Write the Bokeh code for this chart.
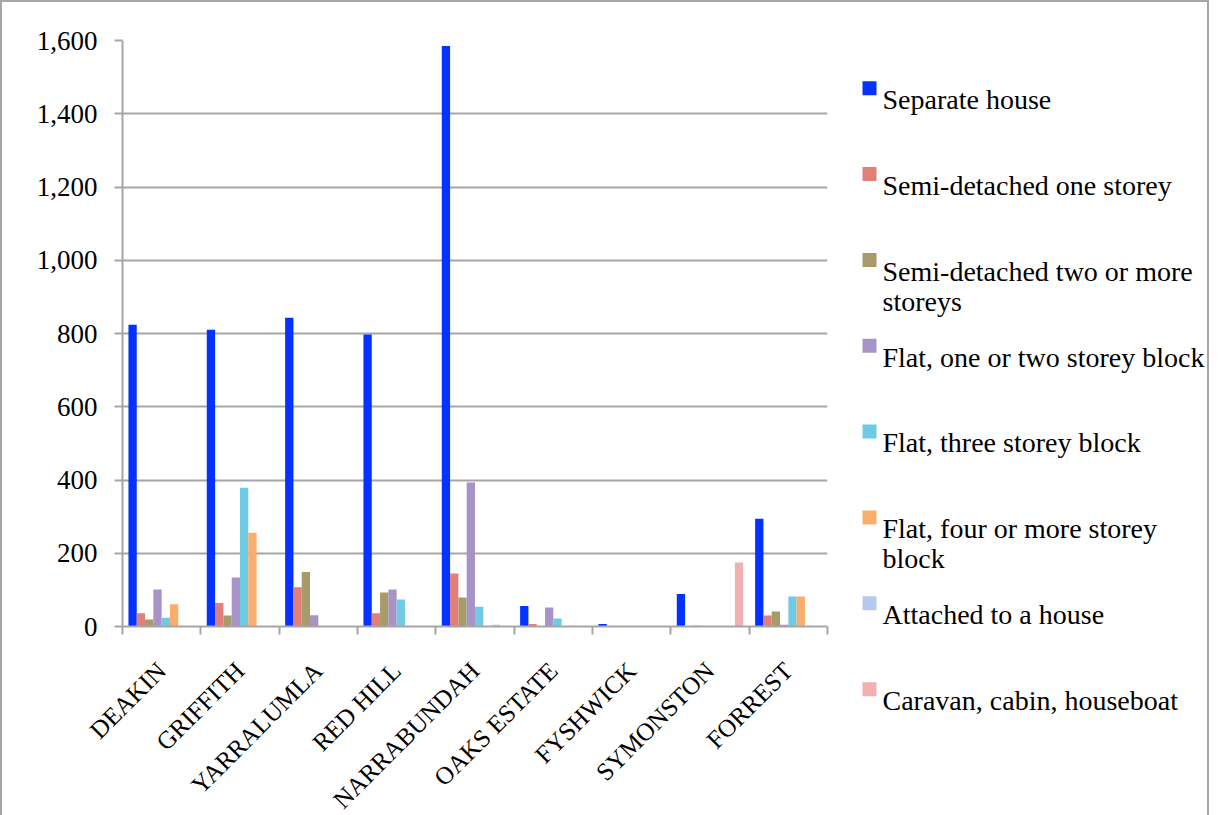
import math
from bokeh.plotting import figure
from bokeh.layouts import row
from bokeh.models import Range1d, FixedTicker, NumeralTickFormatter, ColumnDataSource
from bokeh.core.properties import value
from bokeh.embed import file_html
from bokeh.resources import INLINE

# ---- data ----
suburbs = ["DEAKIN", "GRIFFITH", "YARRALUMLA", "RED HILL", "NARRABUNDAH",
           "OAKS ESTATE", "FYSHWICK", "SYMONSTON", "FORREST"]

separate_house = [824, 810, 843, 797, 1585, 56, 7, 89, 294]
semi_one = [36, 64, 107, 36, 145, 7, 0, 0, 30]
semi_two = [19, 30, 149, 93, 79, 0, 0, 2, 41]
flat_one_two = [101, 134, 31, 101, 393, 52, 0, 0, 5]
flat_three = [24, 379, 0, 74, 54, 22, 0, 0, 82]
flat_four = [61, 256, 0, 0, 0, 0, 0, 0, 82]
attached = [2, 0, 0, 0, 5, 2, 0, 1, 0]
caravan = [0, 0, 0, 0, 0, 0, 0, 175, 0]

series_names = ["Separate house", "Semi-detached one storey",
                "Semi-detached two or more\nstoreys", "Flat, one or two storey block",
                "Flat, three storey block", "Flat, four or more storey\nblock",
                "Attached to a house", "Caravan, cabin, houseboat"]
series_values = [separate_house, semi_one, semi_two, flat_one_two,
                 flat_three, flat_four, attached, caravan]
series_colors = ["#0433FF", "#E27F79", "#A69B69", "#A793C6",
                 "#6FCBE3", "#FBAE6B", "#B5C9EF", "#F2B0B0"]

y_ticks = [0, 200, 400, 600, 800, 1000, 1200, 1400, 1600]

FONT = "Liberation Serif"
FS = "27px"
GRAY = "#A6A6A6"

FRAME_W, FRAME_H = 705, 586
BL, BR, BT, BB = 120, 10, 38, 186
TOTAL_H = BT + FRAME_H + BB

p = figure(frame_width=FRAME_W, frame_height=FRAME_H, output_backend="svg",
           toolbar_location=None,
           x_range=Range1d(0, len(suburbs)), y_range=Range1d(0, 1600),
           min_border_left=BL, min_border_right=BR,
           min_border_top=BT, min_border_bottom=BB)
p.outline_line_color = None

n = len(series_names)
bw = 0.106
for i, (vals, col) in enumerate(zip(series_values, series_colors)):
    xs = [k + 0.5 + (i - (n - 1) / 2) * bw for k in range(len(suburbs))]
    src = ColumnDataSource(dict(x=xs, top=vals))
    p.vbar(x="x", top="top", width=bw, bottom=0, source=src,
           fill_color=col, line_color=None)

p.xgrid.visible = False
p.ygrid.grid_line_color = GRAY
p.ygrid.grid_line_width = 2
p.ygrid.ticker = FixedTicker(ticks=y_ticks)

yax = p.yaxis[0]
yax.ticker = FixedTicker(ticks=y_ticks)
yax.formatter = NumeralTickFormatter(format="0,0")
yax.axis_line_color = GRAY
yax.axis_line_width = 2
yax.major_tick_line_color = GRAY
yax.major_tick_line_width = 2
yax.major_tick_out = 8
yax.major_tick_in = 0
yax.minor_tick_line_color = None
yax.major_label_standoff = 17
yax.major_label_text_font = FONT
yax.major_label_text_font_size = FS
yax.major_label_text_color = "black"

xax = p.xaxis[0]
centers = [k + 0.5 for k in range(len(suburbs))]
xax.ticker = FixedTicker(ticks=centers, minor_ticks=list(range(len(suburbs) + 1)))
xax.major_label_overrides = {c: s for c, s in zip(centers, suburbs)}
xax.major_label_orientation = math.pi / 4
xax.axis_line_color = GRAY
xax.axis_line_width = 2
xax.major_tick_line_color = None
xax.major_tick_out = 0
xax.major_tick_in = 0
xax.minor_tick_line_color = GRAY
xax.minor_tick_line_width = 2
xax.minor_tick_out = 8
xax.minor_tick_in = 0
xax.major_label_standoff = 32
xax.major_label_text_font = FONT
xax.major_label_text_font_size = "25px"
xax.major_label_text_color = "black"

# ---- legend panel (its own figure; y in pixels downward from its frame top,
#      which the row aligns with the chart's frame top) ----
LEG_W = 370
leg = figure(frame_width=LEG_W, frame_height=TOTAL_H, output_backend="svg",
             toolbar_location=None, title=None,
             x_axis_location=None, y_axis_location=None,
             x_range=Range1d(0, LEG_W), y_range=Range1d(TOTAL_H, 0),
             min_border=0, min_border_left=0, min_border_right=0,
             min_border_top=0, min_border_bottom=0)
leg.grid.visible = False
leg.outline_line_color = None

first_c, step = 47.7, 85.85
sw_x, sw_size, txt_x, line_h, base_off = 32, 14, 45, 30, 11.3
sw = dict(x=[], y=[], color=[])
tx = dict(x=[], y=[], text=[])
for i, (nm, col) in enumerate(zip(series_names, series_colors)):
    cy = first_c + i * step
    sw["x"].append(sw_x); sw["y"].append(cy); sw["color"].append(col)
    for j, line in enumerate(nm.split("\n")):
        tx["x"].append(txt_x); tx["y"].append(cy + base_off + j * line_h); tx["text"].append(line)
leg.rect(x="x", y="y", width=sw_size, height=sw_size, fill_color="color",
         line_color=None, source=ColumnDataSource(sw))
leg.text(x="x", y="y", text="text", source=ColumnDataSource(tx),
         text_font=value(FONT), text_font_size="28px", text_color="black",
         text_baseline="alphabetic", text_align="left")

layout = row(p, leg)
layout.styles = {"border-left": "2px solid #A6A6A6", "border-right": "2px solid #A6A6A6",
                 "border-top": "2px solid #A6A6A6"}

open("out.html", "w").write(file_html(layout, INLINE))
